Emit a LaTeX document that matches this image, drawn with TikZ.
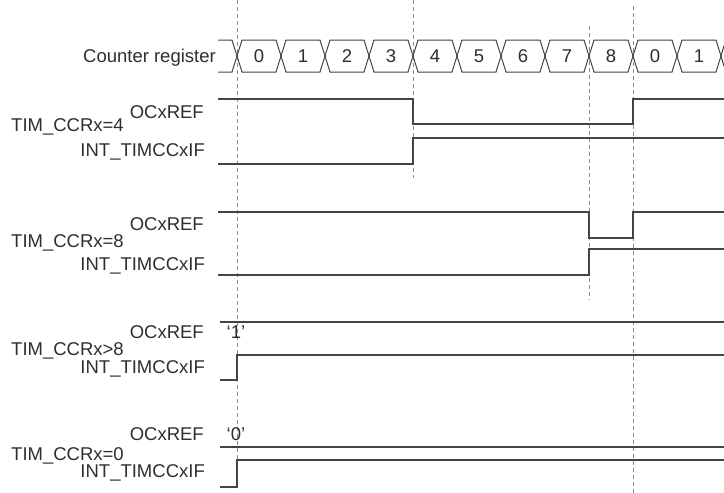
\documentclass[tikz,border=0pt]{standalone}
\usepackage{fontspec}
\setmainfont{Liberation Sans}
\usepackage{xcolor}
\usetikzlibrary{positioning}
\definecolor{wavegray}{HTML}{444444}
\definecolor{textgray}{HTML}{2E2E2E}
\definecolor{guidegray}{HTML}{8C8C8C}

\begin{document}
\begin{tikzpicture}[x=1pt, y=-1pt, font=\fontsize{18.5}{21}\selectfont,
        wave/.style={draw=wavegray, line width=1.2pt},
        guide/.style={draw=guidegray, line width=0.8pt, dash pattern=on 4pt off 3pt},
        sig/.style={anchor=base east, inner sep=0pt, text=textgray},
        reg/.style={anchor=base west, inner sep=0pt, text=textgray}]
        \useasboundingbox (0,0) rectangle (724,493);

        % time markers
        \draw[guide] (237,0) -- (237,490);
        \draw[guide] (413,0) -- (413,178);
        \draw[guide] (589,26) -- (589,300);
        \draw[guide] (633,6) -- (633,493);

        % counter register bus
        \node[sig] (cntlbl) at (216,62) {Counter register};
        \draw[wave, line width=1pt] (218,40) -- (232,40) -- (237,56) -- (232,72) -- (218,72);
        \foreach \v [count=\i from 0] in {0,1,2,3,4,5,6,7,8,0,1} {
            \pgfmathsetmacro\xa{237+44*\i}
            \pgfmathsetmacro\xb{\xa+44}
            \draw[wave, line width=1pt] (\xa,56) -- (\xa+5,40) -- (\xb-5,40) -- (\xb,56) -- (\xb-5,72) -- (\xa+5,72) -- cycle;
            \node[text=textgray] (cnt\i) at (\xa+22,56) {\v};
        }
        \draw[wave, line width=1pt] (724,45.6) -- (721,56) -- (724,66.4);

        % TIM_CCRx=4
        \node[sig] (ref4) at (204,118) {OCxREF};
        \node[reg] (ccr4) at (11,131.5) {TIM\_CCRx=4};
        \node[sig] (int4) at (205,156.5) {INT\_TIMCCxIF};
        \draw[wave] (218,99) -- (413,99) -- (413,124) -- (633,124) -- (633,99) -- (724,99);
        \draw[wave] (218,164) -- (413,164) -- (413,138) -- (724,138);

        % TIM_CCRx=8
        \node[sig] (ref8) at (204,230) {OCxREF};
        \node[reg] (ccr8) at (11,247) {TIM\_CCRx=8};
        \node[sig] (int8) at (205,270) {INT\_TIMCCxIF};
        \draw[wave] (218,212) -- (589,212) -- (589,238) -- (633,238) -- (633,212) -- (724,212);
        \draw[wave] (218,275) -- (589,275) -- (589,249) -- (724,249);

        % TIM_CCRx>8
        \node[sig] (refhi) at (204,338) {OCxREF};
        \node[anchor=base, inner sep=0pt, text=textgray] (one) at (236,338) {‘1’};
        \node[reg] (ccrhi) at (11,355) {TIM\_CCRx>8};
        \node[sig] (inthi) at (205,373) {INT\_TIMCCxIF};
        \draw[wave] (220,322) -- (724,322);
        \draw[wave] (220,380) -- (237,380) -- (237,355) -- (724,355);

        % TIM_CCRx=0
        \node[sig] (ref0) at (204,440) {OCxREF};
        \node[anchor=base, inner sep=0pt, text=textgray] (zero) at (236,440) {‘0’};
        \node[reg] (ccr0) at (11,460) {TIM\_CCRx=0};
        \node[sig] (int0) at (205,477) {INT\_TIMCCxIF};
        \draw[wave] (220,447) -- (724,447);
        \draw[wave] (220,487) -- (237,487) -- (237,460) -- (724,460);
    \end{tikzpicture}
\end{document}
